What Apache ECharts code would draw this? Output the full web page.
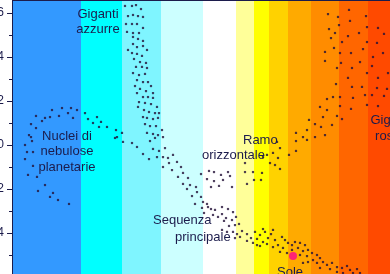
<!DOCTYPE html>
<html>
<head>
<meta charset="utf-8">
<script src="https://cdn.jsdelivr.net/npm/echarts@6/dist/echarts.min.js"></script>
<style>
html,body{margin:0;padding:0;background:#fff;}
#chart{width:390px;height:274px;}
</style>
</head>
<body>
<div id="chart"></div>
<script>
// ---- Data (x: colour index, y: absolute magnitude) ----
const yTickLabels = [-6, -4, -2, 0, 2, 4];

const bandEdges = [-0.40, 0.29, 0.70, 1.09, 1.51, 1.84, 2.02, 2.17, 2.36, 2.59, 2.87, 3.16, 3.38];

const planetaryNuclei = [
  [0.00,-1.59],[0.10,-1.68],[0.19,-1.68],[0.25,-1.59],[0.33,-1.45],[-0.16,-1.32],[-0.07,-1.23],
  [-0.02,-1.27],[0.07,-1.32],[0.16,-1.45],[0.21,-1.23],[0.36,-1.18],[0.45,-1.27],[-0.21,-0.95],
  [-0.10,-1.09],[0.41,-1.00],[0.49,-1.05],[0.55,-0.82],[0.64,-0.68],[0.47,-0.82],[-0.16,-0.77],
  [-0.23,-0.45],[0.65,-0.36],[0.70,-0.55],[-0.21,-0.36],[-0.20,-0.18],[-0.27,0.00],[-0.25,0.32],
  [-0.19,0.32],[-0.27,0.64],[-0.19,0.95],[-0.24,1.36],[-0.15,1.45],[-0.07,1.82],[-0.14,2.09],
  [0.01,2.18],[-0.02,2.36],[0.06,2.50],[0.17,2.68],[0.63,-0.32],[0.71,-0.14]
];

const blueGiants = [
  [0.73,-6.32],[0.76,-5.86],[0.74,-5.50],[0.75,-5.14],[0.76,-4.32],[0.80,-6.32],[0.84,-6.36],
  [0.89,-6.18],[0.81,-5.91],[0.86,-5.86],[0.91,-5.82],[0.80,-5.50],[0.85,-5.50],[0.81,-5.09],
  [0.87,-5.09],[0.91,-5.32],[0.81,-4.91],[0.86,-4.82],[0.91,-4.73],[0.81,-4.59],[0.85,-4.45],
  [0.91,-4.50],[0.95,-4.32],[0.80,-4.18],[0.85,-4.14],[0.90,-4.05],[0.82,-3.91],[0.88,-3.77],
  [0.94,-3.73],[0.84,-3.55],[0.90,-3.55],[0.95,-3.50],[0.81,-3.27],[0.87,-3.18],[0.93,-3.23],
  [0.85,-2.95],[0.91,-2.86],[0.96,-2.86],[0.99,-2.68],[0.83,-2.68],[0.88,-2.55],[0.94,-2.45],
  [1.01,-2.36],[0.85,-2.36],[0.91,-2.18],[0.96,-2.18],[1.01,-2.14],[0.87,-1.95],[0.93,-1.91],
  [0.99,-1.86],[1.05,-1.73],[0.86,-1.73],[0.92,-1.59],[0.97,-1.50],[1.03,-1.45],[1.07,-1.45],
  [0.91,-1.27],[0.95,-1.23],[1.01,-1.18],[1.06,-1.23],[0.93,-0.95],[0.98,-0.86],[1.04,-0.86],
  [1.10,-0.68],[0.95,-0.55],[1.01,-0.50],[1.06,-0.45],[1.03,-0.32],[1.11,-0.36]
];

const upperMainSequence = [
  [0.80,-0.09],[0.85,0.09],[0.98,-0.18],[1.01,0.18],[1.07,0.27],[1.13,0.14],[0.91,0.41],
  [0.97,0.64],[1.05,0.55],[1.11,0.55],[1.16,0.59],[1.21,0.45],[1.17,0.82],[1.25,0.77],
  [1.11,1.00],[1.20,1.14],[1.29,1.00],[1.31,1.27],[1.26,1.45],[1.36,1.50],[1.31,1.77],
  [1.38,1.82],[1.44,1.91],[1.35,2.00],[1.45,2.14],[1.40,2.32],[1.49,2.36],[1.43,2.68],
  [1.51,2.59],[1.55,2.68]
];

const lowerMainSequence = [
  [1.59,2.91],[1.52,3.09],[1.50,2.86],[1.56,2.82],[1.63,2.95],[1.70,2.82],[1.76,2.91],[1.81,3.05],
  [1.61,3.18],[1.66,3.27],[1.70,3.14],[1.74,3.32],[1.80,3.41],[1.84,3.27],[1.72,3.45],
  [1.77,3.68],[1.83,3.64],[1.87,3.59],[1.90,3.91],[1.85,4.05],[1.95,4.05],[1.99,4.23],[2.01,4.45],
  [2.05,4.55],[1.95,4.36],[1.70,3.86],[1.75,3.95],[1.81,3.95],[1.83,4.23],[1.88,4.18],
  [2.03,3.95],[2.08,4.09],[2.13,3.95],[2.19,4.05],[2.05,4.27],[2.11,4.41],[2.16,4.23],[2.23,4.32],
  [2.08,4.59],[2.15,4.50],[2.21,4.64],[2.26,4.55],[2.30,4.18],[2.33,4.32],[2.31,4.68],[2.36,4.45],
  [2.40,4.55],[2.43,4.41],[2.48,4.45],[2.53,4.55],[2.46,4.68],[2.51,4.82],[2.56,4.77],
  [2.28,4.86],[2.35,4.91],[2.40,4.77],[2.48,5.00],[2.55,5.05],[2.60,4.91],[2.65,5.00],[2.68,5.14],
  [2.61,5.23],[2.56,5.32],[2.51,5.36],[2.65,5.36],[2.71,5.32],[2.75,5.45],[2.80,5.36],
  [2.68,5.59],[2.78,5.64],[2.85,5.55],[2.90,5.59],[2.95,5.50],[2.98,5.68],[3.05,5.64],[2.85,5.77],
  [2.91,5.82],[3.01,5.82],[3.08,5.82],[2.11,3.82],[2.21,3.86]
];

const horizontalBranch = [
  [1.49,1.32],[1.55,1.55],[1.57,1.18],[1.62,1.23],[1.69,1.36],[1.76,1.23],[1.78,1.41],[1.62,1.64],
  [1.67,1.86],[1.59,1.91],[1.71,1.59],[1.80,1.91],[1.93,1.23],[2.01,1.23],[2.10,1.27],[2.02,1.59],
  [1.95,1.77],[2.09,1.59],[1.93,0.82],[2.15,0.45],[2.21,0.36],[2.23,0.91],[2.18,0.82],[2.26,0.59],
  [2.28,0.14],[2.28,1.09],[2.37,0.45],[2.44,0.27],[2.44,-0.18],[2.55,-0.23],[2.63,-0.36],
  [2.73,-0.45],[2.11,0.55],[2.25,-0.14]
];

const redGiants = [
  [2.76,-5.95],[2.86,-5.82],[2.97,-6.14],[3.14,-5.86],[2.87,-5.45],[2.98,-5.64],[2.77,-5.27],
  [2.83,-5.09],[2.96,-4.95],[3.07,-5.09],[3.15,-5.36],[3.26,-5.32],[3.32,-5.05],[2.79,-4.86],
  [2.90,-4.68],[3.15,-4.68],[3.25,-4.64],[2.82,-4.41],[2.73,-4.23],[2.88,-4.18],[2.99,-4.18],
  [3.11,-4.36],[3.31,-4.18],[2.73,-3.82],[2.89,-3.73],[3.08,-3.77],[3.21,-4.00],[2.85,-3.50],
  [3.00,-3.50],[3.15,-3.27],[3.36,-3.27],[3.26,-3.05],[2.96,-3.05],[2.84,-2.77],[3.10,-2.64],
  [3.00,-2.64],[3.25,-2.59],[3.35,-2.55],[3.13,-2.27],[3.01,-2.14],[2.88,-2.18],[2.81,-2.18],
  [2.75,-2.09],[3.20,-2.27],[3.32,-2.23],[2.68,-1.73],[2.88,-1.77],[2.99,-1.64],[3.15,-1.82],
  [3.26,-1.77],[2.75,-1.59],[2.85,-1.32],[2.90,-1.18],[2.71,-1.27],[2.63,-0.95],[2.57,-1.14],
  [2.80,-0.91],[2.69,-0.82],[2.55,-0.68],[2.44,-0.55],[2.51,-0.36],[3.20,-3.59]
];

const sun = [[2.41, 5.05]];

// ---- Styles ----
const bandColors = ['#3399ff','#00ffff','#7ff5ff','#ccffff','#ffffff','#ffff99','#ffff00',
                    '#ffd200','#ffaa00','#ff8c00','#ff6600','#ff4a00'];
const ink = '#1c1c4c';
const dotColor = '#241238';
const font = 'Liberation Sans, Arial, sans-serif';

const bandAreas = bandColors.map((c, i) => [
  { xAxis: bandEdges[i], itemStyle: { color: c } },
  { xAxis: bandEdges[i + 1] }
]);

const stars = [].concat(planetaryNuclei, blueGiants, upperMainSequence,
                        lowerMainSequence, horizontalBranch, redGiants);

function txt(text, x, y, align) {
  return {
    type: 'text', x: x, y: y, z: 100,
    style: { text: text, fill: ink, font: '13px ' + font,
             textAlign: align || 'left', textVerticalAlign: 'middle' }
  };
}

const chart = echarts.init(document.getElementById('chart'), null, { renderer: 'canvas' });
chart.setOption({
  animation: false,
  backgroundColor: '#ffffff',
  grid: { left: 12, right: 0, top: -31, bottom: -3, containLabel: false, outerBoundsMode: 'none' },
  xAxis: { type: 'value', min: bandEdges[0], max: bandEdges[bandEdges.length - 1], show: false },
  yAxis: {
    type: 'value', inverse: true, min: -8, max: 6, interval: 2, z: 10,
    axisLine: { show: true, onZero: false, lineStyle: { color: ink, width: 1 } },
    axisTick: { show: true, length: 5, lineStyle: { color: ink } },
    minorTick: { show: true, splitNumber: 2, length: 3, lineStyle: { color: ink } },
    splitLine: { show: false },
    axisLabel: {
      color: ink, fontSize: 12, fontFamily: font, margin: 8,
      formatter: v => (yTickLabels.indexOf(v) >= 0 ? String(v) : '')
    }
  },
  series: [
    {
      type: 'scatter', data: [], z: 0, silent: true,
      markArea: { silent: true, data: bandAreas }
    },
    {
      type: 'scatter', data: stars, symbol: 'rect', symbolSize: 2.2, z: 3,
      itemStyle: { color: dotColor }
    },
    {
      type: 'scatter', data: sun, symbol: 'circle', symbolSize: 8, z: 4,
      itemStyle: { color: '#ff0090' }
    }
  ],
  graphic: [
    { type: 'line', z: 100, shape: { x1: 12, y1: 0.5, x2: 390, y2: 0.5 },
      style: { stroke: ink, lineWidth: 1 } },
    txt('Giganti', 98, 14, 'center'),
    txt('azzurre', 98, 29, 'center'),
    txt('Nuclei di', 67, 136, 'center'),
    txt('nebulose', 67, 151, 'center'),
    txt('planetarie', 67, 167, 'center'),
    txt('Ramo', 243, 140, 'left'),
    txt('orizzontale', 202, 155, 'left'),
    txt('Sequenza', 153, 220, 'left'),
    txt('principale', 175, 237, 'left'),
    txt('Sole', 277, 272, 'left'),
    txt('Giganti', 391, 120, 'center'),
    txt('rosse', 391, 136, 'center')
  ]
});
</script>
</body>
</html>
